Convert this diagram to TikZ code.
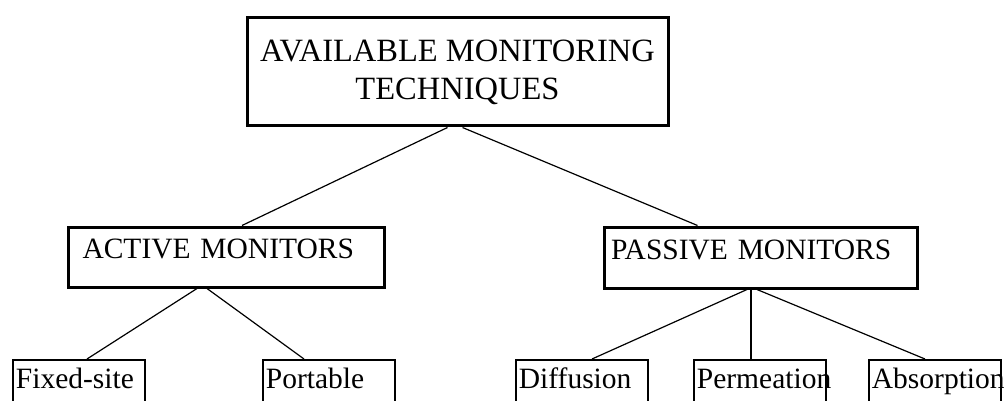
\documentclass[tikz,border=0pt]{standalone}
\usepackage{fontspec}
\setmainfont{Liberation Serif}

\begin{document}
\begin{tikzpicture}[x=1pt,y=-1pt,
    bigbox/.style={draw,line width=3pt,inner sep=0pt,align=center},
    midfont/.style={font=\fontsize{29.5}{32}\selectfont},
    leafbox/.style={draw,line width=1.8pt,anchor=north west,text width=126pt,align=left,
        inner xsep=3pt,inner ysep=3pt,text height=26pt,text depth=40pt,
        font=\fontsize{29.5}{31}\selectfont},
    link/.style={line width=1.2pt}]
    \useasboundingbox (0,0) rectangle (1004,401);
    \clip (0,0) rectangle (1004,401);
    %top
    \node[bigbox,minimum width=421pt,minimum height=108pt,font=\fontsize{32.5}{38}\selectfont]
        (techniques) at (457.5,72) {AVAILABLE MONITORING\\TECHNIQUES};
    %second row
    \node[bigbox,midfont,align=left,text width=287pt,inner xsep=14.5pt,minimum height=60pt,text depth=16pt]
        (active) at (226,257) {ACTIVE MONITORS};
    \node[bigbox,midfont,align=left,text width=299pt,inner xsep=7pt,minimum height=61pt,text depth=16pt]
        (passive) at (760.5,257.5) {PASSIVE MONITORS};
    %bottom row, cut off at the lower edge
    \node[leafbox] (fixed) at (12,359) {Fixed-site};
    \node[leafbox] (portable) at (262,359) {Portable};
    \node[leafbox] (diffusion) at (515,359) {Diffusion};
    \node[leafbox] (permeation) at (693,359) {Permeation};
    \node[leafbox] (absorption) at (868,359) {Absorption};
    %connectors
    \draw[link] ([xshift=-10pt]techniques.south) -- ([xshift=16pt]active.north);
    \draw[link] ([xshift=5pt]techniques.south) -- ([xshift=-63pt]passive.north);
    \draw[link] ([xshift=-29pt]active.south) -- ([xshift=75pt]fixed.north west);
    \draw[link] ([xshift=-19pt]active.south) -- ([xshift=42pt]portable.north west);
    \draw[link] ([xshift=-13.5pt]passive.south) -- ([xshift=77pt]diffusion.north west);
    \draw[link] ([xshift=-9.5pt]passive.south) -- ([xshift=58pt]permeation.north west);
    \draw[link] ([xshift=-3.5pt]passive.south) -- ([xshift=57pt]absorption.north west);
\end{tikzpicture}
\end{document}
